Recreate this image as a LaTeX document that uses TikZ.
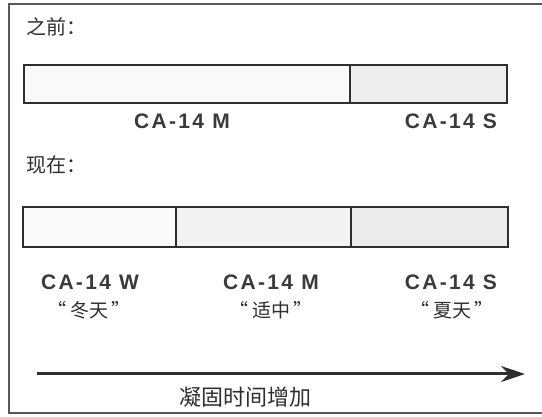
\documentclass[tikz,border=0pt]{standalone}
\usepackage{fontspec}
\setmainfont{Liberation Sans}
\newfontfamily\cjk{Noto Sans CJK SC}
\newfontfamily\labfont[LetterSpace=11]{Liberation Sans}
\usetikzlibrary{arrows.meta}
\definecolor{ink}{HTML}{2E2E2E}
\definecolor{lab}{HTML}{3A3A3A}
\newcommand{\myLQ}{“\hspace{4pt}}
\newcommand{\myRQ}{\hspace{3pt}”}
\tikzset{
  seg/.style={draw=ink, line width=2pt, inner sep=0pt, minimum height=38pt, anchor=north west},
  ca/.style={text=lab, font=\labfont\bfseries\fontsize{21pt}{21pt}\selectfont, inner sep=0pt, anchor=center},
  zh/.style={text=ink, font=\cjk\fontsize{19pt}{19pt}\selectfont, inner sep=0pt, anchor=center},
  head/.style={text=ink, font=\cjk\fontsize{20pt}{20pt}\selectfont, inner sep=0pt, anchor=west},
}
\begin{document}
\begin{tikzpicture}[x=1pt,y=-1pt]
\useasboundingbox (0,0) rectangle (542,417);
% frame
\draw[gray!70!black, line width=1.3pt] (543,4) -- (9,4) -- (9,413) -- (543,413);
% before
\node[head] (t1) at (26,27) {之前：};
\node[seg, fill=gray!5, minimum width=326pt] (b1m) at (23,64) {};
\node[seg, fill=gray!13, minimum width=157pt] (b1s) at (349,64) {};
\node[ca] (l1m) at (182,121.5) {CA-14 M};
\node[ca] (l1s) at (451,121.5) {CA-14 S};
% now
\node[head] (t2) at (26,165) {现在：};
\node[seg, fill=gray!4, minimum width=153pt, minimum height=40pt] (b2w) at (22,206) {};
\node[seg, fill=gray!10, minimum width=175pt, minimum height=40pt] (b2m) at (175,206) {};
\node[seg, fill=gray!16, minimum width=157pt, minimum height=40pt] (b2s) at (350,206) {};
\node[ca] (l2w) at (90,282) {CA-14 W};
\node[ca] (l2m) at (271,282) {CA-14 M};
\node[ca] (l2s) at (451,282) {CA-14 S};
\node[zh] (q2w) at (89,310) {\myLQ 冬天\myRQ};
\node[zh] (q2m) at (271,310) {\myLQ 适中\myRQ};
\node[zh] (q2s) at (452,310) {\myLQ 夏天\myRQ};
% arrow
\coordinate (a0) at (37,374);
\coordinate (a1) at (525,374);
\draw[ink, line width=3pt, -{Stealth[length=24pt,width=16pt]}] (a0) -- (a1);
\node[text=ink, font=\cjk\fontsize{22pt}{22pt}\selectfont, inner sep=0pt] (al) at (245,397) {凝固时间增加};
\end{tikzpicture}
\end{document}
